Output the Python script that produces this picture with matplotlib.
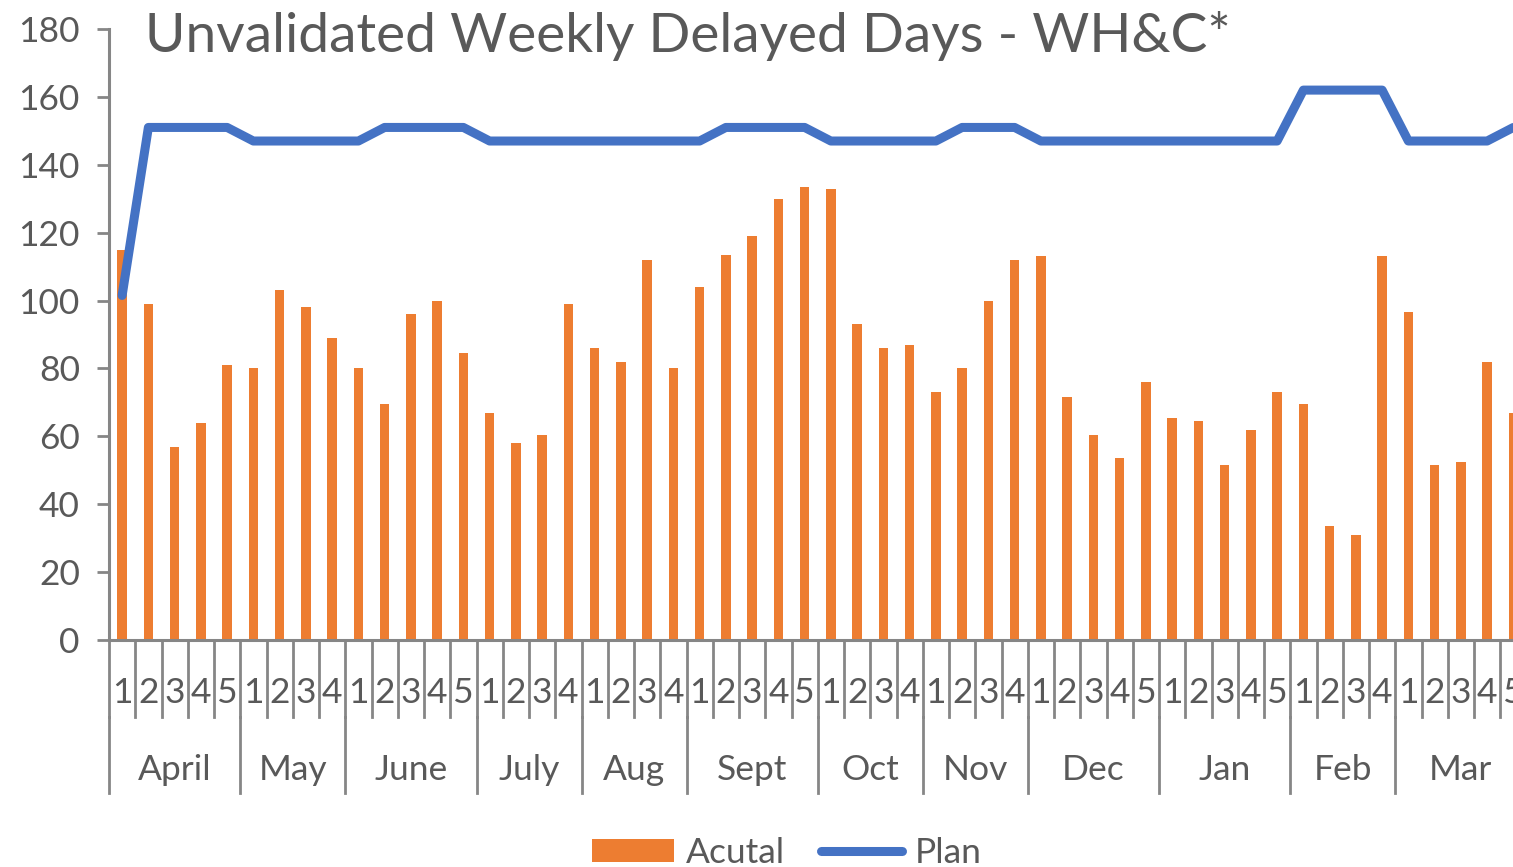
"""
Unvalidated weekly delayed days - actual vs plan
"""

import matplotlib
matplotlib.use("Agg")
import matplotlib.pyplot as plt
import matplotlib.transforms as mtransforms

# data
months = ['April', 'May', 'June', 'July', 'Aug', 'Sept', 'Oct', 'Nov', 'Dec', 'Jan', 'Feb', 'Mar']
weeks_per_month = [5, 4, 5, 4, 4, 5, 4, 4, 5, 5, 4, 5]

actual = [115, 99, 57, 64, 81,
          80, 103, 98, 89,
          80, 69.5, 96, 100, 84.5,
          67, 58, 60.5, 99,
          86, 82, 112, 80,
          104, 113.5, 119, 130, 133.5,
          133, 93, 86, 87,
          73, 80, 100, 112,
          113, 71.5, 60.5, 53.5, 76,
          65.5, 64.5, 51.5, 62, 73,
          69.5, 33.5, 31, 113,
          96.5, 51.5, 52.5, 82, 67]

plan = [101.5, 151, 151, 151, 151,
        147, 147, 147, 147,
        147, 151, 151, 151, 151,
        147, 147, 147, 147,
        147, 147, 147, 147,
        147, 151, 151, 151, 151,
        147, 147, 147, 147,
        147, 151, 151, 151,
        147, 147, 147, 147, 147,
        147, 147, 147, 147, 147,
        162, 162, 162, 162,
        147, 147, 147, 147, 151]

week_labels = []
for n in weeks_per_month:
    week_labels += [str(i + 1) for i in range(n)]

ORANGE = '#ED7D31'
BLUE = '#4472C4'
GRID = '#868686'
TEXT = '#595959'

plt.rcParams['font.family'] = ['Lato', 'DejaVu Sans']

W, H = 1513, 867
fig = plt.figure(figsize=(W / 100, H / 100), dpi=100)

n = len(actual)
col_w = 26.25
x0, y0, ytop = 109, 640, 29
ax = fig.add_axes([x0 / W, 1 - y0 / H, n * col_w / W, (y0 - ytop) / H])

xs = [i + 0.5 for i in range(n)]
bars = ax.bar(xs, actual, width=0.37, color=ORANGE, label='Acutal', zorder=2)
line, = ax.plot(xs, plan, color=BLUE, lw=6.5, solid_joinstyle='round',
                solid_capstyle='round', label='Plan', zorder=3)

ax.set_xlim(0, n)
ax.set_ylim(0, 180)
ax.set_yticks(range(0, 181, 20))
ax.tick_params(axis='y', length=9, width=2, color=GRID, labelsize=25.5,
               labelcolor=TEXT, pad=12)
ax.set_xticks([])

for s in ['top', 'right']:
    ax.spines[s].set_visible(False)
for s in ['left', 'bottom']:
    ax.spines[s].set_color(GRID)
    ax.spines[s].set_linewidth(2.2)

# category axis: week row and month row
ah = y0 - ytop
trans = mtransforms.blended_transform_factory(ax.transData, ax.transAxes)
week_bottom = -(717 - y0) / ah
month_bottom = -(793 - y0) / ah

for i in range(n + 1):
    ax.plot([i, i], [0, week_bottom], transform=trans, color=GRID, lw=2,
            clip_on=False)
for i, lab in enumerate(week_labels):
    ax.text(i + 0.5, -(693 - y0) / ah, lab, transform=trans, ha='center',
            va='center', fontsize=25.5, color=TEXT)

start = 0
for m, k in zip(months, weeks_per_month):
    ax.plot([start, start], [week_bottom, month_bottom], transform=trans,
            color=GRID, lw=2, clip_on=False)
    ax.text(start + k / 2, -(770 - y0) / ah, m, transform=trans, ha='center',
            va='center', fontsize=25.5, color=TEXT)
    start += k

fig.text(145 / W, 1 - 52 / H, 'Unvalidated Weekly Delayed Days - WH&C*',
         fontsize=39.7, color=TEXT, va='baseline', ha='left')

fig.legend([bars, line], ['Acutal', 'Plan'], loc='center',
           bbox_to_anchor=(787 / W, 1 - 853 / H), ncol=2,
           frameon=False, fontsize=25.5, handlelength=2.3, handleheight=0.6,
           handletextpad=0.35, columnspacing=1.0, labelcolor=TEXT)

fig.savefig('out.png', dpi=100)
